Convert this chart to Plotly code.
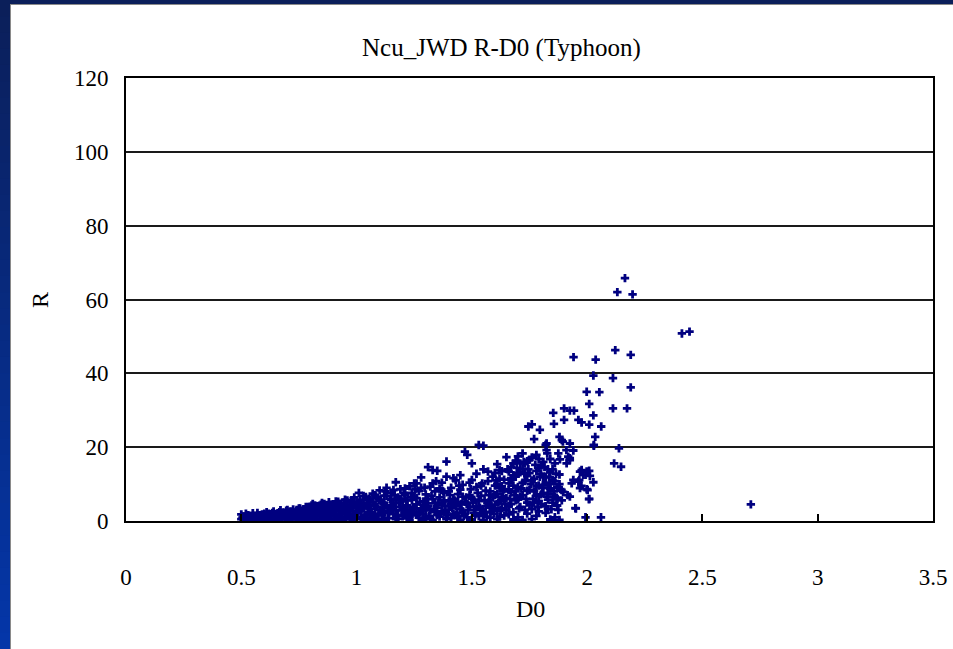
import plotly.graph_objects as go

# ---- data: median volume diameter D0 (mm) vs rain rate R (mm/h), typhoon samples ----
d0 = [
    # 0.50 - 0.62
    0.50, 0.51, 0.52, 0.53, 0.55, 0.56, 0.58, 0.59, 0.60, 0.61, 0.62,
    # 0.63 - 0.75
    0.63, 0.64, 0.65, 0.66, 0.67, 0.68, 0.69, 0.70, 0.71, 0.72, 0.72, 0.73, 0.74, 0.75, 0.75,
    # 0.76 - 0.90
    0.76, 0.76, 0.77, 0.78, 0.78, 0.79, 0.80, 0.80, 0.81, 0.81, 0.82, 0.83, 0.83, 0.84, 0.84,
    0.85, 0.85, 0.86, 0.87, 0.87, 0.88, 0.88, 0.89, 0.89, 0.90, 0.90,
    # 0.91 - 1.05
    0.91, 0.91, 0.92, 0.92, 0.93, 0.93, 0.94, 0.94, 0.95, 0.95, 0.96, 0.96, 0.97, 0.97, 0.98,
    0.98, 0.99, 0.99, 1.00, 1.00, 1.01, 1.01, 1.02, 1.02, 1.03, 1.03, 1.04, 1.04, 1.05, 1.05,
    # 1.06 - 1.20
    1.06, 1.06, 1.07, 1.07, 1.08, 1.08, 1.09, 1.09, 1.10, 1.10, 1.11, 1.11, 1.12, 1.12, 1.13,
    1.13, 1.14, 1.14, 1.15, 1.15, 1.16, 1.16, 1.17, 1.17, 1.18, 1.18, 1.19, 1.19, 1.20, 1.20,
    # 1.21 - 1.35
    1.21, 1.21, 1.22, 1.22, 1.23, 1.23, 1.24, 1.24, 1.25, 1.25, 1.26, 1.26, 1.27, 1.27, 1.28,
    1.28, 1.29, 1.29, 1.30, 1.30, 1.31, 1.31, 1.32, 1.32, 1.33, 1.33, 1.34, 1.34, 1.35, 1.35,
    1.26,
    # 1.36 - 1.50
    1.36, 1.36, 1.37, 1.37, 1.38, 1.38, 1.39, 1.39, 1.40, 1.40, 1.41, 1.41, 1.42, 1.42, 1.43,
    1.43, 1.44, 1.44, 1.45, 1.45, 1.46, 1.46, 1.47, 1.47, 1.48, 1.48, 1.49, 1.49, 1.50, 1.50,
    # 1.51 - 1.65
    1.51, 1.51, 1.52, 1.52, 1.53, 1.53, 1.54, 1.54, 1.55, 1.55, 1.56, 1.56, 1.57, 1.57, 1.58,
    1.58, 1.59, 1.59, 1.60, 1.60, 1.61, 1.61, 1.62, 1.62, 1.63, 1.63, 1.64, 1.64, 1.65, 1.65,
    # 1.66 - 1.90 dense cluster
    1.66, 1.66, 1.67, 1.67, 1.68, 1.68, 1.69, 1.69, 1.70, 1.70, 1.71, 1.71, 1.72, 1.72, 1.73,
    1.73, 1.74, 1.74, 1.745, 1.75, 1.75, 1.76, 1.76, 1.77, 1.77, 1.78, 1.78, 1.79, 1.79, 1.795,
    1.80, 1.80, 1.81, 1.81, 1.82, 1.82, 1.83, 1.83, 1.84, 1.84, 1.85, 1.853, 1.856, 1.86, 1.86,
    1.87, 1.88, 1.89, 1.895, 1.896,
    1.58, 1.60, 1.61, 1.62, 1.63, 1.64, 1.66, 1.67, 1.68, 1.69, 1.70, 1.71, 1.72, 1.73, 1.74,
    1.75, 1.76, 1.77, 1.78, 1.79, 1.80, 1.81, 1.82, 1.83, 1.84, 1.85, 1.86, 1.87, 1.88, 1.89,
    1.58, 1.62, 1.66, 1.70, 1.74, 1.78, 1.82, 1.86,
    1.824, 1.824, 1.827, 1.875, 1.882, 1.925, 1.911, 1.969, 1.998, 1.983, 2.012, 1.940, 1.962,
    1.969, 1.998, 1.875, 1.889, 1.853, 1.868, 1.925, 2.008, 1.951, 2.029,
    # near-zero row along the axis
    0.52, 0.57, 0.64, 0.70, 0.74, 0.79, 0.86, 0.91, 0.97, 1.03, 1.08, 1.12, 1.17, 1.23, 1.29,
    1.33, 1.39, 1.45, 1.50, 1.55, 1.61, 1.68, 1.72, 1.76, 1.84, 1.88,
    # 1.90 - 2.75 sparse tail
    1.90, 1.90, 1.91, 1.915, 1.918, 1.925, 1.925, 1.925, 1.933, 1.94, 1.941, 1.943, 1.949, 1.962,
    1.966, 1.975, 1.976, 1.976, 1.993, 1.993, 1.998, 2.002, 2.009, 2.009, 2.009, 2.009, 2.027,
    2.027, 2.027, 2.029, 2.035, 2.037, 2.053, 2.06, 2.061, 2.112, 2.112, 2.117, 2.122, 2.131,
    2.138, 2.147, 2.164, 2.173, 2.189, 2.189, 2.197, 2.411, 2.444, 2.71,
]

r = [
    0.5, 1.2, 0.8, 1.6, 0.6, 1.3, 0.9, 1.8, 0.5, 1.4, 2.0,
    0.7, 1.1, 1.9, 0.4, 1.5, 2.3, 0.9, 1.7, 2.6, 0.6, 1.3, 2.0, 3.0, 1.0, 2.4,
    0.5, 1.8, 3.2, 1.2, 2.6, 3.8, 0.7, 2.0, 4.6, 3.0, 1.4, 2.5, 4.0, 0.6, 3.4,
    1.8, 4.9, 2.9, 1.1, 3.9, 2.2, 5.1, 0.5, 3.1, 1.6, 4.3,
    2.6, 5.3, 0.9, 3.6, 1.9, 4.7, 2.9, 0.4, 3.9, 5.8, 1.4, 2.4, 4.4, 3.2, 0.8,
    5.2, 2.0, 6.4, 3.6, 1.2, 4.8, 7.6, 2.7, 0.6, 5.6, 3.9, 1.7, 6.5, 2.3, 4.4,
    0.9, 3.3, 5.2, 7.4, 2.0, 4.1, 6.2, 0.5, 3.0, 8.3, 1.5, 5.0, 6.9, 2.6, 4.2,
    9.0, 0.8, 3.5, 5.8, 7.6, 1.9, 4.6, 10.5, 2.9, 6.4, 0.6, 3.8, 8.6, 1.3, 5.3,
    2.4, 7.1, 4.2, 0.7, 9.4, 3.1, 5.7, 1.6, 10.2, 6.6, 2.2, 4.5, 8.1, 0.9, 3.4,
    11.8, 5.3, 1.9, 7.2, 2.9, 14.6, 4.1, 9.3, 0.6, 13.8, 5.9, 2.5, 8.0, 13.6, 3.6,
    10.2,
    1.2, 6.4, 10.4, 4.3, 2.3, 7.7, 16.1, 12.0, 3.1, 5.3, 0.8, 9.0, 2.0, 6.0, 4.0,
    11.0, 1.4, 7.3, 3.3, 8.5, 9.8, 2.6, 18.8, 5.2, 17.9, 1.0, 3.9, 7.0, 11.1, 15.6,
    2.2, 5.8, 4.0, 9.2, 20.6, 1.3, 3.1, 6.9, 14.0, 20.4, 2.4, 8.2, 5.0, 10.8, 3.6,
    0.9, 12.0, 6.5, 4.4, 9.6, 2.8, 7.4, 11.5, 5.4, 13.5, 3.5, 8.6, 1.5, 17.3, 6.2,
    10.2, 4.0, 14.6, 7.8, 12.4, 2.4, 16.3, 5.6, 9.2, 17.5, 3.8, 13.2, 18.3, 7.0, 10.8,
    15.6, 5.0, 12.2, 25.6, 8.4, 16.6, 26.2, 3.2, 22.2, 11.4, 17.9, 6.8, 14.4, 9.6, 24.7,
    4.6, 12.8, 16.0, 7.6, 20.6, 10.4, 14.0, 5.8, 16.8, 8.8, 11.1, 29.3, 26.3, 15.6, 6.6,
    9.3, 22.8, 21.9, 21.5, 7.9,
    8.0, 13.0, 15.4, 9.0, 6.6, 11.2, 13.4, 4.6, 9.6, 12.0, 5.8, 15.6, 10.4, 3.0, 8.2,
    13.0, 17.2, 5.0, 9.4, 16.8, 7.2, 11.8, 4.0, 9.0, 13.2, 5.0, 10.8, 4.2, 12.6, 5.6,
    2.4, 1.2, 1.8, 1.0, 2.0, 1.4, 2.2, 1.0,
    21.0, 19.2, 18.3, 18.3, 16.7, 17.0, 15.6, 13.4, 13.4, 12.5, 12.2, 11.1, 10.7,
    8.9, 8.6, 8.9, 8.4, 6.6, 6.3, 6.6, 5.9, 3.4, 20.4,
    0.3, 0.4, 0.3, 0.4, 0.5, 0.3, 0.4, 0.3, 0.5, 0.3, 0.4, 0.3, 0.5, 0.3, 0.4,
    0.3, 0.5, 0.3, 0.4, 0.3, 0.5, 0.4, 0.3, 0.5, 0.4, 0.3,
    30.5, 27.4, 19.2, 7.0, 17.4, 21.0, 29.9, 16.5, 10.2, 19.1, 44.4, 29.9, 3.5, 27.4,
    11.1, 9.5, 13.8, 26.7, 12.5, 1.0, 35.0, 8.4, 31.7, 13.6, 6.0, 26.1, 10.5,
    28.6, 39.4, 20.6, 22.8, 43.7, 34.9, 1.0, 25.6, 38.7, 30.5, 15.6, 46.3, 62.0,
    19.7, 14.7, 65.8, 30.5, 45.0, 36.2, 61.4, 50.8, 51.3, 4.5,
]

# further samples inside the dense low-diameter band
d0_band = [
    0.505, 0.515, 0.525, 0.535, 0.545, 0.57, 0.575, 0.585, 0.60, 0.615, 0.625, 0.635, 0.645,
    0.655, 0.665, 0.675, 0.685, 0.695, 0.705, 0.715, 0.725, 0.735, 0.745, 0.755, 0.765, 0.775,
    0.785, 0.795, 0.805, 0.815, 0.825, 0.835, 0.845, 0.855, 0.865, 0.875, 0.885, 0.895, 0.905,
    0.915, 0.925, 0.935, 0.945, 0.955, 0.965, 0.975, 0.985, 0.995, 1.005, 1.015, 1.025, 1.035,
    1.045, 1.055, 1.065, 1.075, 1.085, 1.095, 1.105, 1.115, 1.125, 1.135, 1.145, 1.155, 1.165,
    1.175, 1.185, 1.195, 1.205, 1.215, 1.225, 1.235, 1.245, 1.255, 1.265, 1.275, 1.285, 1.295,
    1.305, 1.315, 1.325, 1.335, 1.345, 1.355, 1.365, 1.375, 1.385, 1.395, 1.405, 1.415, 1.425,
    1.435, 1.445, 1.455, 1.465, 1.475, 1.485, 1.495, 1.505, 1.515, 1.525, 1.535, 1.545, 1.555,
    1.565, 1.575, 1.585, 1.595, 1.605, 1.615, 1.625, 1.635, 1.645, 1.655, 1.665, 1.675, 1.685,
    1.695, 1.705, 1.715, 1.725, 1.735, 1.745, 1.755, 1.765, 1.775, 1.785, 1.795, 1.805, 1.815,
    1.825, 1.835, 1.845, 1.855, 1.865, 1.875,
    # second pass over the same band
    0.50, 0.51, 0.52, 0.53, 0.54, 0.55, 0.56, 0.57, 0.58, 0.59, 0.60, 0.61, 0.62, 0.63, 0.64,
    0.65, 0.66, 0.67, 0.68, 0.69, 0.70, 0.71, 0.72, 0.73, 0.74, 0.75, 0.76, 0.77, 0.78, 0.79,
    0.80, 0.81, 0.82, 0.83, 0.84, 0.85, 0.86, 0.87, 0.88, 0.89, 0.90, 0.91, 0.92, 0.93, 0.94,
    0.95, 0.96, 0.97, 0.98, 0.99, 1.00, 1.01, 1.02, 1.03, 1.04, 1.05, 1.06, 1.07, 1.08, 1.09,
    1.10, 1.11, 1.12, 1.13, 1.14, 1.15, 1.16, 1.17, 1.18, 1.19, 1.20, 1.21, 1.22, 1.23, 1.24,
    1.25, 1.26, 1.27, 1.28, 1.29, 1.30, 1.31, 1.32, 1.33, 1.34, 1.35, 1.36, 1.37, 1.38, 1.39,
    1.40, 1.41, 1.42, 1.43, 1.44, 1.45, 1.46, 1.47, 1.48, 1.49, 1.50, 1.51, 1.52, 1.53, 1.54,
    1.55, 1.56, 1.57, 1.58, 1.59, 1.60, 1.61, 1.62, 1.63, 1.64, 1.65, 1.66, 1.67, 1.68, 1.69,
    1.70, 1.71, 1.72, 1.73, 1.74, 1.75, 1.76, 1.77, 1.78, 1.79, 1.80, 1.81, 1.82, 1.83, 1.84,
    1.85, 1.87, 1.88, 1.79, 1.83,
]
r_band = [
    0.9, 0.4, 1.5, 0.7, 1.1, 1.6, 0.8, 1.3, 2.0, 0.8, 1.5, 2.2, 1.8,
    1.1, 2.4, 0.8, 1.6, 2.8, 1.2, 2.0, 3.1, 1.0, 2.2, 3.4, 2.6, 1.0,
    3.5, 2.2, 4.2, 1.6, 3.3, 2.0, 4.4, 1.2, 3.6, 2.6, 4.0, 2.0, 3.4,
    1.2, 4.4, 2.4, 5.0, 1.0, 3.6, 5.4, 2.6, 4.2, 2.2, 5.8, 3.4, 1.2,
    4.8, 6.0, 2.4, 4.2, 6.6, 1.8, 5.4, 3.6, 8.0, 2.2, 6.0, 4.0, 7.0,
    1.4, 5.0, 3.0, 7.6, 4.0, 2.0, 6.4, 3.8, 8.6, 1.6, 5.2, 3.0, 9.0,
    4.8, 1.4, 6.8, 3.2, 10.8, 5.0, 2.0, 8.0, 4.0, 1.6, 7.0, 3.6, 5.6,
    2.2, 9.6, 4.6, 1.4, 6.4, 3.0, 8.6, 5.0, 1.8, 7.6, 3.6, 10.2, 5.6,
    1.2, 7.0, 4.0, 2.0, 11.0, 5.0, 3.0, 8.0, 4.6, 14.0, 6.0, 11.2, 7.0,
    14.4, 3.4, 8.8, 16.0, 6.0, 14.0, 10.0, 6.0, 15.2, 3.8, 12.0, 9.0, 14.6,
    6.6, 11.8, 3.2, 8.0, 12.8, 3.0,
    1.8, 0.2, 2.0, 0.3, 1.4, 2.1, 0.3, 2.2, 1.6, 0.3, 1.2, 2.4, 0.3, 1.6, 2.6,
    0.3, 1.9, 2.9, 1.2, 2.2, 3.0, 0.4, 2.6, 1.4, 1.8, 3.4, 2.8, 0.4, 3.8, 1.6,
    3.2, 1.0, 4.2, 0.4, 2.2, 3.2, 4.6, 2.0, 0.4, 4.4, 2.8, 4.0, 5.2, 0.4, 3.8,
    2.2, 5.6, 1.8, 3.6, 0.4, 5.0, 2.8, 4.4, 6.8, 0.4, 3.4, 5.8, 1.4, 7.0, 3.8,
    5.6, 0.4, 4.8, 6.8, 2.4, 3.2, 8.4, 5.0, 1.6, 6.0, 3.6, 8.8, 5.6, 1.2, 7.6,
    3.2, 6.2, 2.4, 9.0, 4.4, 1.0, 6.0, 3.0, 10.2, 4.8, 1.6, 8.8, 2.6, 5.6, 0.8,
    8.0, 4.6, 11.6, 1.6, 5.2, 12.4, 6.6, 2.0, 4.6, 10.4, 6.0, 3.0, 12.8, 5.4, 9.6,
    1.8, 4.0, 13.4, 5.6, 3.0, 7.0, 10.0, 13.8, 9.4, 6.0, 3.0, 8.4, 11.6, 15.6, 8.0,
    13.0, 6.6, 14.2, 12.8, 16.2, 4.4, 11.0, 8.0, 13.6, 5.4, 15.0, 9.8, 12.0, 7.4, 10.0,
    14.0, 6.0, 10.0, 2.6, 3.2,
]

x_ticks = [0, 0.5, 1, 1.5, 2, 2.5, 3, 3.5]
y_ticks = [0, 20, 40, 60, 80, 100, 120]

TITLE = "Ncu_JWD R-D0 (Typhoon)"
X_TITLE = "D0"
Y_TITLE = "R"

# ---- page geometry (pixels) ----
W, H = 953, 649
ML, MR, MT, MB = 126, 20, 78, 128
PW, PH = W - ML - MR, H - MT - MB


def px(x):
    return (x - ML) / PW


def py(y):
    return (H - MB - y) / PH


FONT = "Liberation Serif"

fig = go.Figure()
fig.add_trace(go.Scatter(
    x=d0 + d0_band, y=r + r_band, mode="markers",
    marker=dict(symbol="cross", size=7, color="#000080", line=dict(width=0)),
    showlegend=False, hoverinfo="x+y",
))

# slide frame: dark band on top, blue gradient band on the left
shapes = []
shapes.append(dict(type="rect", xref="paper", yref="paper",
                   x0=px(0), x1=px(W), y0=py(4), y1=py(0),
                   fillcolor="#0b1f5a", line=dict(width=0), layer="above"))
steps = 40
c0 = (0x0b, 0x1f, 0x5a)
c1 = (0x04, 0x36, 0xa8)
for i in range(steps):
    t = i / (steps - 1)
    col = "rgb(%d,%d,%d)" % tuple(round(a + (b - a) * t) for a, b in zip(c0, c1))
    ya = H * i / steps
    yb = H * (i + 1) / steps + 1
    shapes.append(dict(type="rect", xref="paper", yref="paper",
                       x0=px(0), x1=px(10), y0=py(yb), y1=py(ya),
                       fillcolor=col, line=dict(width=0), layer="above"))
# thin grey edge of the white panel
shapes.append(dict(type="line", xref="paper", yref="paper",
                   x0=px(10.5), x1=px(10.5), y0=py(H), y1=py(4),
                   line=dict(color="#8a8a8a", width=1), layer="above"))
shapes.append(dict(type="line", xref="paper", yref="paper",
                   x0=px(10), x1=px(W), y0=py(4.5), y1=py(4.5),
                   line=dict(color="#8a8a8a", width=1), layer="above"))

annotations = [
    dict(text=TITLE, xref="paper", yref="paper", x=px(501), y=py(48),
         xanchor="center", yanchor="middle", showarrow=False,
         font=dict(family=FONT, size=25, color="black")),
    dict(text=X_TITLE, xref="paper", yref="paper", x=px(530), y=py(609),
         xanchor="center", yanchor="middle", showarrow=False,
         font=dict(family=FONT, size=24, color="black")),
    dict(text=Y_TITLE, xref="paper", yref="paper", x=px(40), y=py(300),
         xanchor="center", yanchor="middle", showarrow=False, textangle=-90,
         font=dict(family=FONT, size=24, color="black")),
]

fig.update_layout(
    width=W, height=H, autosize=False,
    margin=dict(l=ML, r=MR, t=MT, b=MB, pad=0, autoexpand=False),
    paper_bgcolor="white", plot_bgcolor="white",
    shapes=shapes, annotations=annotations,
    font=dict(family=FONT, color="black"),
)

fig.update_xaxes(
    range=[0, 3.5], tickvals=x_ticks, ticks="inside", ticklen=7, tickwidth=2,
    tickcolor="black", showgrid=False, zeroline=False,
    showline=True, linecolor="black", linewidth=2, mirror=True,
    automargin=False, ticklabeloverflow="allow",
    tickfont=dict(family=FONT, size=23, color="black"), ticklabelstandoff=34,
)
fig.update_yaxes(
    range=[0, 120], tickvals=y_ticks, ticks="", showgrid=True,
    gridcolor="#1a1a1a", gridwidth=2, zeroline=False,
    showline=True, linecolor="black", linewidth=2, mirror=True,
    automargin=False, ticklabeloverflow="allow",
    tickfont=dict(family=FONT, size=23, color="black"), ticklabelstandoff=11,
)

fig.write_html("out.html", config={"responsive": False})
